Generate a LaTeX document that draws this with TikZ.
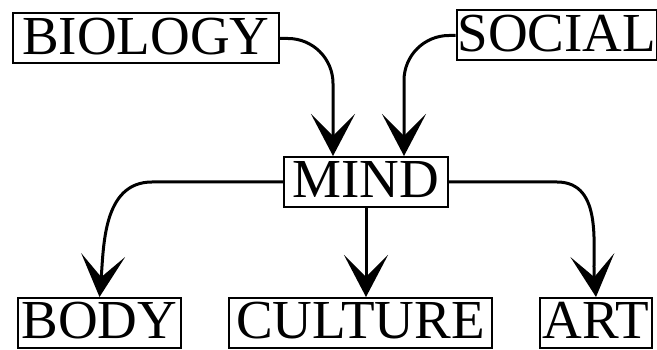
\documentclass[tikz,border=0pt]{standalone}
\usepackage{fontspec}
\setmainfont{Liberation Serif}
\usetikzlibrary{arrows.meta, positioning}
\definecolor{InkBlack}{HTML}{000000}
\definecolor{PaperWhite}{HTML}{ffffff}
\tikzset{
    % Box styles - plain sharp rectangles
    concept/.style={
        rectangle,
        draw=InkBlack,
        fill=PaperWhite,
        line width=2pt,
        minimum height=50pt,
        inner xsep=1pt,
        inner ysep=0pt,
        text height=36pt,
        text depth=4pt,
        align=center,
        font=\fontsize{55}{60}\selectfont
    },
    % Arrow styles - big barbed heads
    arrow/.style={
        -{Stealth[length=42pt,width=44pt,inset=22pt]},
        line width=3pt,
        draw=InkBlack
    }
}

\begin{document}
\begin{tikzpicture}[x=1pt, y=1pt]
    \useasboundingbox[fill=PaperWhite] (0,0) rectangle (657,350);

    \node[concept, minimum width=266pt] (biology) at (146,311.5) {BIOLOGY};
    \node[concept, minimum width=198pt] (social) at (557,314.5) {SOCIAL};

    \node[concept, minimum width=164pt] (mind) at (366,168) {MIND};

    \node[concept, minimum width=163pt] (body) at (99.5,27) {BODY};
    \node[concept, minimum width=263pt] (culture) at (360.5,27) {CULTURE};
    \node[concept, minimum width=112pt] (art) at (596,27) {ART};

    \draw[arrow, rounded corners=45pt] (biology.east) -| ([xshift=-33pt]mind.north);
    \draw[arrow, rounded corners=45pt] (social.west) -| ([xshift=38pt]mind.north);
    \draw[arrow] (mind.west) -- ++(-131,0) to[out=180, in=85] (body.north);
    \draw[arrow] (mind.south) -- (mind.south |- culture.north);
    \draw[arrow] (mind.east) -- ++(108,0) to[out=0, in=95] (art.north);
\end{tikzpicture}
\end{document}
